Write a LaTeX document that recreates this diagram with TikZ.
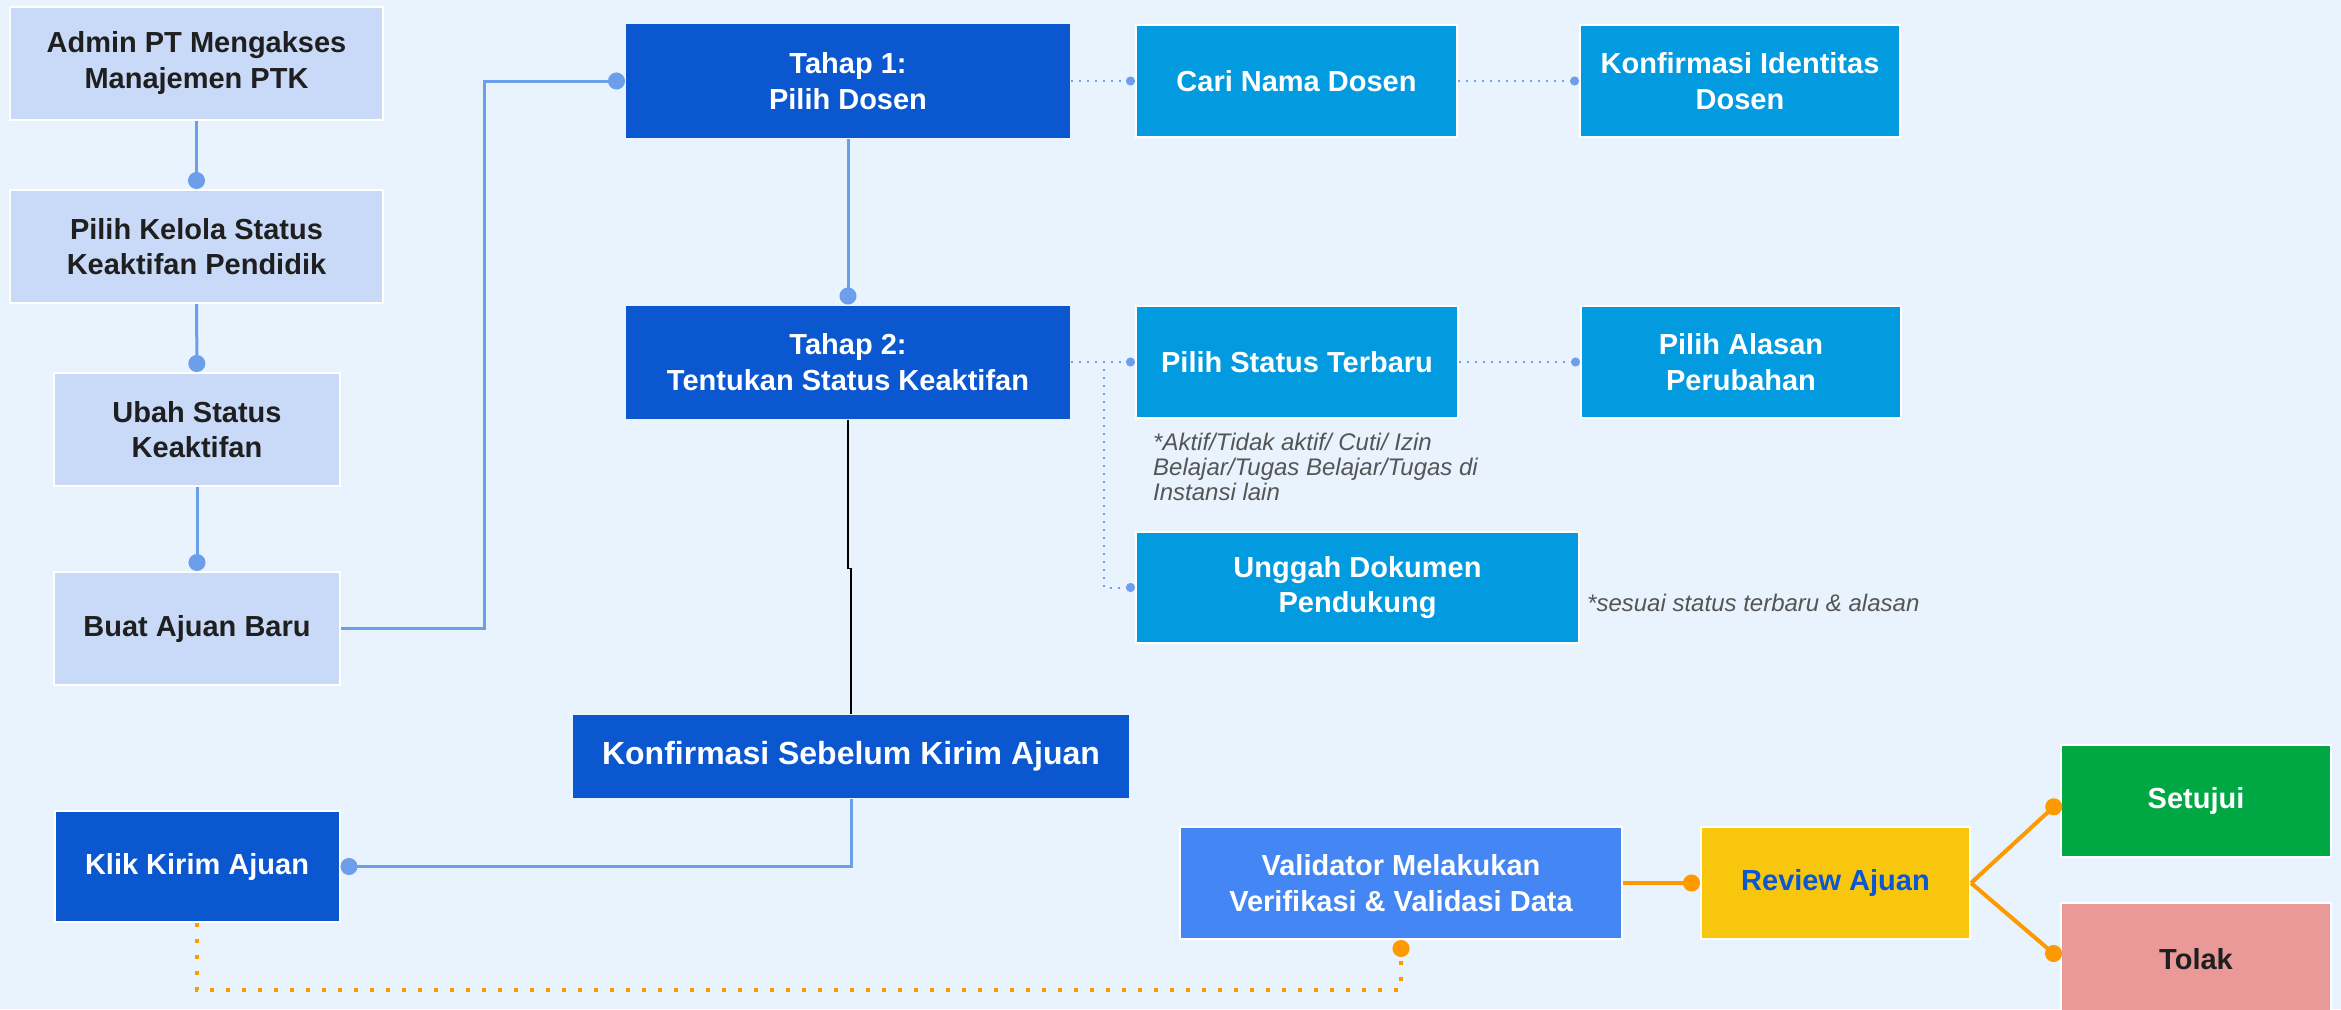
\documentclass[tikz,border=0pt]{standalone}
\usepackage{fontspec}
\setmainfont{Liberation Sans}
\usetikzlibrary{positioning,arrows.meta}
\definecolor{bgblue}{HTML}{E8F3FE}
\definecolor{paleblue}{HTML}{C9DAF8}
\definecolor{deepblue}{HTML}{0B57D0}
\definecolor{skyblue}{HTML}{039BE0}
\definecolor{midblue}{HTML}{4486F4}
\definecolor{sunyellow}{HTML}{F9C60E}
\definecolor{okgreen}{HTML}{00A843}
\definecolor{nopink}{HTML}{EA9999}
\definecolor{linkblue}{HTML}{6D9EEB}
\definecolor{linkorange}{HTML}{FF9900}
\definecolor{inkdark}{HTML}{1F1F1F}
\definecolor{notegray}{HTML}{555555}

\begin{document}
\begin{tikzpicture}[x=1pt,y=-1pt,
  box/.style={draw=white,line width=2pt,minimum height=113pt,inner sep=4pt,align=center,
    font=\bfseries\fontsize{29}{35.5}\selectfont},
  palebox/.style={box,fill=paleblue,text=inkdark},
  deepbox/.style={box,draw=none,fill=deepblue,text=white},
  skybox/.style={box,fill=skyblue,text=white},
  note/.style={inner sep=0pt,align=left,text=notegray,font=\itshape\fontsize{24}{25}\selectfont},
  link/.style={draw=linkblue,line width=3pt,-{Circle[length=17pt,width=17pt]}},
  dotlink/.style={draw=linkblue,line width=2pt,dash pattern=on 2pt off 6pt,-{Circle[length=9pt,width=9pt]}},
  orlink/.style={draw=linkorange,line width=4pt,-{Circle[length=17pt,width=17pt]}},
  ordots/.style={orlink,dash pattern=on 4pt off 12pt}]
\fill[bgblue] (0,0) rectangle (2341,1009);
\useasboundingbox (0,0) rectangle (2341,1009);

% left column
\node[palebox,minimum width=373pt] (admin) at (196.5,63) {Admin PT Mengakses\\Manajemen PTK};
\node[palebox,minimum width=373pt] (kelola) at (196.5,246.5) {Pilih Kelola Status\\Keaktifan Pendidik};
\node[palebox,minimum width=286pt] (ubah) at (197,429.5) {Ubah Status\\Keaktifan};
\node[palebox,minimum width=286pt] (buat) at (197,628.5) {Buat Ajuan Baru};
\node[box,fill=deepblue,text=white,minimum width=285pt,minimum height=111pt] (klik) at (197,866.5) {Klik Kirim Ajuan};

% tahap
\node[deepbox,minimum width=444pt,minimum height=114pt] (tahap1) at (848,81) {Tahap 1:\\Pilih Dosen};
\node[deepbox,minimum width=444pt] (tahap2) at (848,362) {Tahap 2:\\Tentukan Status Keaktifan};
\node[deepbox,minimum width=556pt,minimum height=83pt,font=\bfseries\fontsize{32}{38}\selectfont] (konfirm) at (851,756.5) {Konfirmasi Sebelum Kirim Ajuan};

% sub steps
\node[skybox,minimum width=321pt,minimum height=112pt] (cari) at (1296.5,81) {Cari Nama Dosen};
\node[skybox,minimum width=320pt,minimum height=112pt] (identitas) at (1740,81) {Konfirmasi Identitas\\Dosen};
\node[skybox,minimum width=322pt,minimum height=112pt] (status) at (1297,362) {Pilih Status Terbaru};
\node[skybox,minimum width=320pt,minimum height=112pt] (alasan) at (1741,362) {Pilih Alasan\\Perubahan};
\node[skybox,minimum width=443pt,minimum height=111pt] (unggah) at (1357.5,587.5) {Unggah Dokumen\\Pendukung};
\node[note,anchor=north west] (notestatus) at (1153,433) {*Aktif/Tidak aktif/ Cuti/ Izin\\Belajar/Tugas Belajar/Tugas di\\Instansi lain};
\node[note,anchor=base west] (notedok) at (1587,611) {*sesuai status terbaru \& alasan};

% validasi
\node[box,fill=midblue,text=white,minimum width=442pt,minimum height=112pt] (valid) at (1401,883) {Validator Melakukan\\Verifikasi \& Validasi Data};
\node[box,fill=sunyellow,text=deepblue,minimum width=269pt,minimum height=112pt] (review) at (1835.5,883) {Review Ajuan};
\node[box,fill=okgreen,text=white,minimum width=270pt,minimum height=112pt] (setuju) at (2196,801) {Setujui};
\node[box,fill=nopink,text=inkdark,minimum width=270pt,minimum height=112pt] (tolak) at (2196,959) {Tolak};

\draw[link] (admin) to (kelola);
\draw[link] (kelola) to (ubah);
\draw[link] (ubah) to (buat);
\draw[link] (buat.east) -- ++(143,0) |- (tahap1.west);
\draw[link] (tahap1) to (tahap2);
\draw[black,line width=1.2pt] (tahap2.south) -- ++(0,149) -| (konfirm.north);
\draw[link] (konfirm.south) |- (klik.east);
\draw[dotlink] (tahap1) to (cari);
\draw[dotlink] (cari) to (identitas);
\draw[dotlink] (tahap2) to (status);
\draw[dotlink] (status) to (alasan);
\draw[dotlink] (tahap2.east) -- ++(33,0) |- (unggah.west);
\draw[ordots] (klik.south) -- ++(0,67) -| (valid.south);
\draw[orlink] (valid) to (review);
\draw[orlink] (review.east) -- (setuju.west);
\draw[orlink] (review.east) -- (tolak.west);
\end{tikzpicture}
\end{document}
